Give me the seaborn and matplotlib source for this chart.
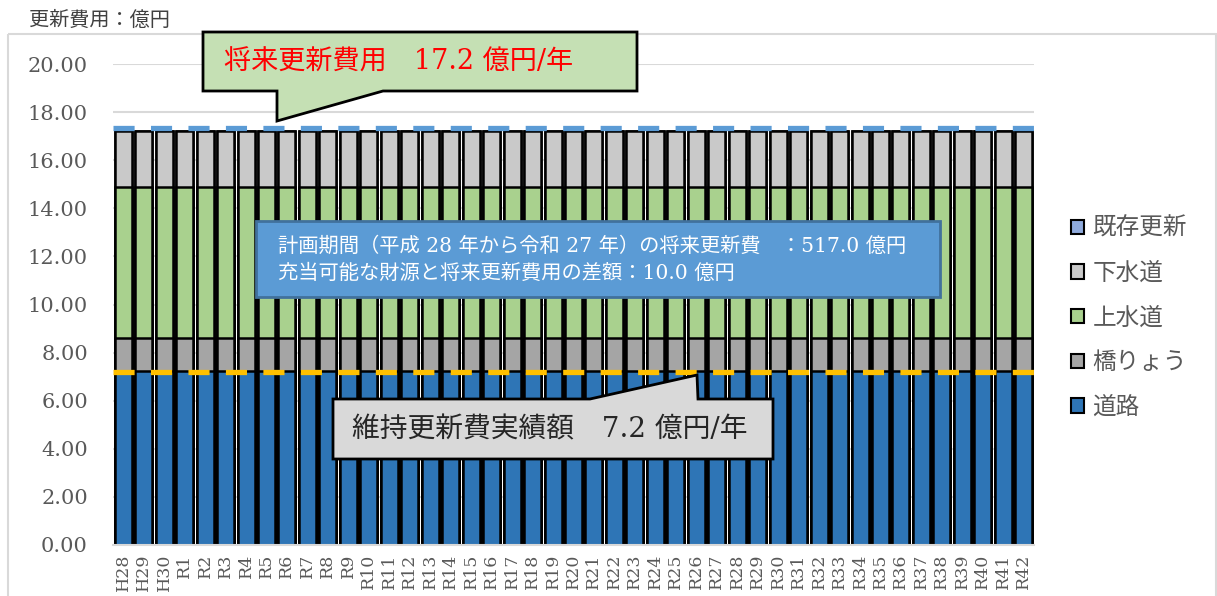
import matplotlib
matplotlib.use("Agg")
import matplotlib.pyplot as plt
from matplotlib.patches import Patch, Polygon, Rectangle
from matplotlib.transforms import Affine2D, ScaledTranslation
import numpy as np
import pandas as pd
import seaborn as sns

# ---- data (億円 per fiscal year) ----
years = ["H28", "H29", "H30"] + [f"R{i}" for i in range(1, 43)]
road = [7.25, 7.25, 7.25, 7.25, 7.25, 7.25, 7.25, 7.25, 7.25, 7.25, 7.25, 7.25, 7.25, 7.25, 7.25,
        7.25, 7.25, 7.25, 7.25, 7.25, 7.25, 7.25, 7.25, 7.25, 7.25, 7.25, 7.25, 7.25, 7.25, 7.25,
        7.25, 7.25, 7.25, 7.25, 7.25, 7.25, 7.25, 7.25, 7.25, 7.25, 7.25, 7.25, 7.25, 7.25, 7.25]
bridge = [1.35, 1.35, 1.35, 1.35, 1.35, 1.35, 1.35, 1.35, 1.35, 1.35, 1.35, 1.35, 1.35, 1.35, 1.35,
          1.35, 1.35, 1.35, 1.35, 1.35, 1.35, 1.35, 1.35, 1.35, 1.35, 1.35, 1.35, 1.35, 1.35, 1.35,
          1.35, 1.35, 1.35, 1.35, 1.35, 1.35, 1.35, 1.35, 1.35, 1.35, 1.35, 1.35, 1.35, 1.35, 1.35]
water = [6.30, 6.30, 6.30, 6.30, 6.30, 6.30, 6.30, 6.30, 6.30, 6.30, 6.30, 6.30, 6.30, 6.30, 6.30,
         6.30, 6.30, 6.30, 6.30, 6.30, 6.30, 6.30, 6.30, 6.30, 6.30, 6.30, 6.30, 6.30, 6.30, 6.30,
         6.30, 6.30, 6.30, 6.30, 6.30, 6.30, 6.30, 6.30, 6.30, 6.30, 6.30, 6.30, 6.30, 6.30, 6.30]
sewer = [2.30, 2.30, 2.30, 2.30, 2.30, 2.30, 2.30, 2.30, 2.30, 2.30, 2.30, 2.30, 2.30, 2.30, 2.30,
         2.30, 2.30, 2.30, 2.30, 2.30, 2.30, 2.30, 2.30, 2.30, 2.30, 2.30, 2.30, 2.30, 2.30, 2.30,
         2.30, 2.30, 2.30, 2.30, 2.30, 2.30, 2.30, 2.30, 2.30, 2.30, 2.30, 2.30, 2.30, 2.30, 2.30]
existing = [0.0, 0.0, 0.0, 0.0, 0.0, 0.0, 0.0, 0.0, 0.0, 0.0, 0.0, 0.0, 0.0, 0.0, 0.0,
            0.0, 0.0, 0.0, 0.0, 0.0, 0.0, 0.0, 0.0, 0.0, 0.0, 0.0, 0.0, 0.0, 0.0, 0.0,
            0.0, 0.0, 0.0, 0.0, 0.0, 0.0, 0.0, 0.0, 0.0, 0.0, 0.0, 0.0, 0.0, 0.0, 0.0]
y_ticks = [0, 2, 4, 6, 8, 10, 12, 14, 16, 18, 20]
future_cost = 17.2       # 将来更新費用 (億円/年)
actual_cost = 7.2        # 維持更新費実績額 (億円/年)
plan_total = 517.0       # 計画期間の将来更新費 (億円)
gap_total = 10.0         # 充当可能な財源との差額 (億円)

series = ["道路", "橋りょう", "上水道", "下水道", "既存更新"]
colors = {"道路": "#2E75B6", "橋りょう": "#A5A5A5", "上水道": "#A9D18E",
          "下水道": "#C9C9C9", "既存更新": "#8FAADC"}

df = pd.DataFrame({"年度": years, "道路": road, "橋りょう": bridge,
                   "上水道": water, "下水道": sewer, "既存更新": existing})
cum = df[series].cumsum(axis=1)

sns.set_theme(style="white")
plt.rcParams["font.family"] = ["DejaVu Serif", "Noto Sans CJK JP"]

W, H = 1217, 596
fig = plt.figure(figsize=(W / 100, H / 100), dpi=100)
ax = fig.add_axes([113 / W, 51 / H, (1034 - 113) / W, (545 - 64) / H])

# stacked bars: draw cumulative layers from the top down
for name in reversed(series):
    sns.barplot(x=df["年度"], y=cum[name], color=colors[name], saturation=1,
                edgecolor="black", linewidth=1.8, width=0.83, errorbar=None,
                ax=ax, zorder=2)

ax.set_xlim(-0.5, len(years) - 0.5)
ax.set_ylim(0, 20)
ax.set_yticks(y_ticks)
ax.set_yticklabels([f"{v:.2f}" for v in y_ticks], fontsize=15, color="#595959")
ax.set_xticks(range(len(years)))
ax.set_xticklabels(years, rotation=90, fontsize=12.5, color="#595959")
ax.tick_params(axis="y", length=0, pad=18)
ax.tick_params(axis="x", length=0, pad=6)
ax.set_xlabel("")
ax.set_ylabel("")
ax.grid(axis="y", color="#D9D9D9", linewidth=1.5, zorder=0)
ax.set_axisbelow(True)
for side in ["left", "right", "top"]:
    ax.spines[side].set_visible(False)
ax.spines["bottom"].set_color("#D9D9D9")
ax.spines["bottom"].set_linewidth(1.5)

# reference levels (the upper one sits just above the bar outlines)
upper = ax.axhline(future_cost, color="#5B9BD5", linewidth=3.8,
                   linestyle=(0, (4.0, 3.1)), zorder=5)
upper.set_transform(ax.get_yaxis_transform()
                    + ScaledTranslation(0, 3.5 / 100, fig.dpi_scale_trans))
ax.axhline(actual_cost, color="#FFC000", linewidth=3.8,
           linestyle=(0, (4.0, 3.1)), zorder=5)

# legend
handles = [Patch(facecolor=colors[n], edgecolor="black", linewidth=1.5)
           for n in ["既存更新", "下水道", "上水道", "橋りょう", "道路"]]
leg = ax.legend(handles, ["既存更新", "下水道", "上水道", "橋りょう", "道路"],
                loc="center left", bbox_to_anchor=(1071 / W, 1 - 318 / H),
                bbox_transform=fig.transFigure, frameon=False, fontsize=17,
                handlelength=0.55, handleheight=0.55, handletextpad=0.35,
                labelspacing=0.92, borderpad=0, borderaxespad=0)
for t in leg.get_texts():
    t.set_color("#595959")

# pixel transform (origin top-left) for the callout shapes
px = Affine2D().scale(1, -1).translate(0, H)

# chart-area border
fig.patches.append(Rectangle((8, 34), 1208, 570, transform=px, fill=False,
                             edgecolor="#D9D9D9", linewidth=1.5))

fig.text(29, 20, "更新費用：億円", transform=px, fontsize=14.5, color="#404040",
         va="center", ha="left")

# callout: future renewal cost
green = Polygon([(203, 32), (637, 32), (637, 91), (383, 91), (277, 121),
                 (277, 91), (203, 91)], closed=True, transform=px,
                facecolor="#C5E0B4", edgecolor="black", linewidth=2, zorder=10)
fig.patches.append(green)
fig.text(224, 62, f"将来更新費用　{future_cost:.1f} 億円/年", transform=px,
         fontsize=19.5, color="#FF0000", va="center", ha="left", zorder=11)

# callout: actual maintenance cost
gray = Polygon([(333, 399), (590, 399), (697, 375), (698, 399), (773, 399),
                (773, 459), (333, 459)], closed=True, transform=px,
               facecolor="#D9D9D9", edgecolor="black", linewidth=2, zorder=10)
fig.patches.append(gray)
fig.text(352, 430, f"維持更新費実績額　{actual_cost:.1f} 億円/年", transform=px,
         fontsize=20, color="#262626", va="center", ha="left", zorder=11)

# info box
fig.patches.append(Rectangle((256, 221), 684, 76, transform=px,
                             facecolor="#5B9BD5", edgecolor="#41719C",
                             linewidth=2, zorder=10))
fig.text(278, 246, f"計画期間（平成 28 年から令和 27 年）の将来更新費　：{plan_total:.1f} 億円",
         transform=px, fontsize=14.6, color="white", va="center", ha="left", zorder=11)
fig.text(278, 273, f"充当可能な財源と将来更新費用の差額：{gap_total:.1f} 億円",
         transform=px, fontsize=14.6, color="white", va="center", ha="left", zorder=11)

fig.savefig("out.png", dpi=100)
